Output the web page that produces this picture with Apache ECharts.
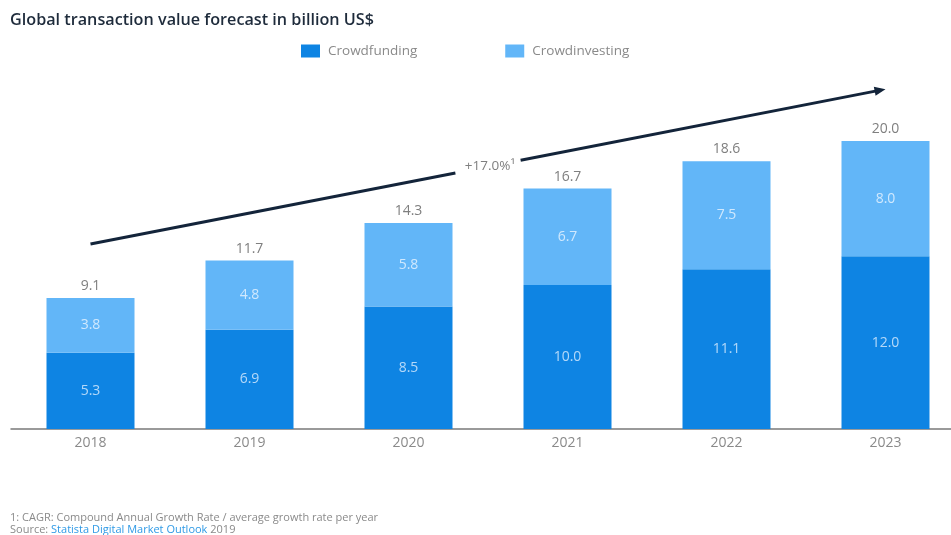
<!DOCTYPE html>
<html>
<head>
<meta charset="utf-8">
<title>Global transaction value forecast</title>
<script src="https://cdn.jsdelivr.net/npm/echarts@6/dist/echarts.min.js"></script>
<style>
  html, body { margin: 0; padding: 0; background: #fff; }
  #chart { width: 951px; height: 535px; }
</style>
</head>
<body>
<div id="chart"></div>
<script>
// Forecast data, billion US$
const years = ['2018', '2019', '2020', '2021', '2022', '2023'];
const crowdfunding = [5.3, 6.9, 8.5, 10.0, 11.1, 12.0];
const crowdinvesting = [3.8, 4.8, 5.8, 6.7, 7.5, 8.0];
const totals = [9.1, 11.7, 14.3, 16.7, 18.6, 20.0];

// Growth trend arrow: [startIndex, startValue, endIndex, endValue]
const trendArrow = [0, 12.85, 5, 23.6];
const trendLabel = '+17.0%\u00B9';

const FONT = '"Open Sans", "Noto Sans", sans-serif';

const chart = echarts.init(document.getElementById('chart'), null, { renderer: 'canvas' });

function renderArrow(params, api) {
  const p0 = api.coord([api.value(0), api.value(1)]);
  const p1 = api.coord([api.value(2), api.value(3)]);
  const dx = p1[0] - p0[0], dy = p1[1] - p0[1];
  const len = Math.sqrt(dx * dx + dy * dy);
  const ux = dx / len, uy = dy / len;
  const gap = 0.041;
  const lerp = t => [p0[0] + dx * t, p0[1] + dy * t];
  const g1 = lerp(0.5 - gap), g2 = lerp(0.5 + gap), mid = lerp(0.5);
  const headLen = 11, headHalf = 4.5;
  const base = [p1[0] - ux * headLen, p1[1] - uy * headLen];
  const stroke = { stroke: '#13243a', lineWidth: 3, lineCap: 'butt' };
  return {
    type: 'group',
    children: [
      { type: 'line', shape: { x1: p0[0], y1: p0[1], x2: g1[0], y2: g1[1] }, style: stroke },
      { type: 'line', shape: { x1: g2[0], y1: g2[1], x2: base[0] + ux * 2, y2: base[1] + uy * 2 }, style: stroke },
      {
        type: 'polygon',
        shape: { points: [
          [p1[0], p1[1]],
          [base[0] - uy * headHalf, base[1] + ux * headHalf],
          [base[0] + uy * headHalf, base[1] - ux * headHalf]
        ] },
        style: { fill: '#13243a' }
      },
      {
        type: 'text',
        style: {
          text: trendLabel, x: mid[0] + 2, y: mid[1], align: 'center', verticalAlign: 'middle',
          fill: '#7f7f7f', fontSize: 13.5, fontFamily: FONT
        }
      }
    ]
  };
}

const option = {
  backgroundColor: '#ffffff',
  animation: false,
  textStyle: { fontFamily: FONT },
  title: {
    text: 'Global transaction value forecast in billion US$',
    left: 5, top: 7,
    textStyle: { fontFamily: FONT, fontSize: 16.2, fontWeight: 600, color: '#1e2b3b' }
  },
  legend: {
    left: 301, top: 44, padding: 0,
    itemWidth: 19, itemHeight: 13, itemGap: 88,
    icon: 'rect',
    textStyle: { fontFamily: FONT, fontSize: 13.5, color: '#8a8a8a', padding: [0, 0, 0, 3] },
    data: ['Crowdfunding', 'Crowdinvesting']
  },
  // the last category slot runs past the right edge of the canvas
  grid: { left: 11, width: 954, top: 69, bottom: 106, containLabel: false, outerBoundsMode: 'none' },
  xAxis: {
    type: 'category',
    data: years,
    axisLine: { lineStyle: { color: '#7a7a7a', width: 1.5 } },
    axisTick: { show: false },
    axisLabel: { color: '#8a8a8a', fontSize: 14, fontFamily: FONT, margin: 7 }
  },
  yAxis: {
    type: 'value', min: 0, max: 25,
    show: false, splitLine: { show: false }
  },
  series: [
    {
      name: 'Crowdfunding', type: 'bar', stack: 'total', barWidth: 88,
      itemStyle: { color: '#0e84e3' },
      label: {
        show: true, position: 'inside', color: 'rgba(225,240,255,0.78)',
        fontSize: 14, fontFamily: FONT,
        formatter: p => p.value.toFixed(1)
      },
      data: crowdfunding
    },
    {
      name: 'Crowdinvesting', type: 'bar', stack: 'total', barWidth: 88,
      itemStyle: { color: '#62b6f8' },
      label: {
        show: true, position: 'inside', color: 'rgba(235,245,255,0.8)',
        fontSize: 14, fontFamily: FONT,
        formatter: p => p.value.toFixed(1)
      },
      data: crowdinvesting
    },
    {
      name: 'Total', type: 'bar', stack: 'total', barWidth: 88,
      itemStyle: { color: 'transparent' },
      label: {
        show: true, position: 'insideBottom', distance: 5, color: '#7f7f7f',
        fontSize: 14, fontFamily: FONT,
        formatter: p => totals[p.dataIndex].toFixed(1)
      },
      data: totals.map(() => 0),
      silent: true
    },
    {
      name: 'Trend', type: 'custom', clip: false, silent: true,
      renderItem: renderArrow,
      data: [trendArrow]
    }
  ],
  graphic: [
    {
      type: 'text', left: 10, top: 512,
      style: {
        text: '1: CAGR: Compound Annual Growth Rate / average growth rate per year',
        fill: '#8a8a8a', fontSize: 11, fontFamily: FONT
      }
    },
    {
      type: 'text', left: 10, top: 524,
      style: {
        text: '{a|Source: }{b|Statista Digital Market Outlook}{a| 2019}',
        rich: {
          a: { fill: '#8a8a8a', fontSize: 11, fontFamily: FONT },
          b: { fill: '#2f9ae6', fontSize: 11, fontFamily: FONT }
        }
      }
    }
  ]
};

chart.setOption(option);
</script>
</body>
</html>
